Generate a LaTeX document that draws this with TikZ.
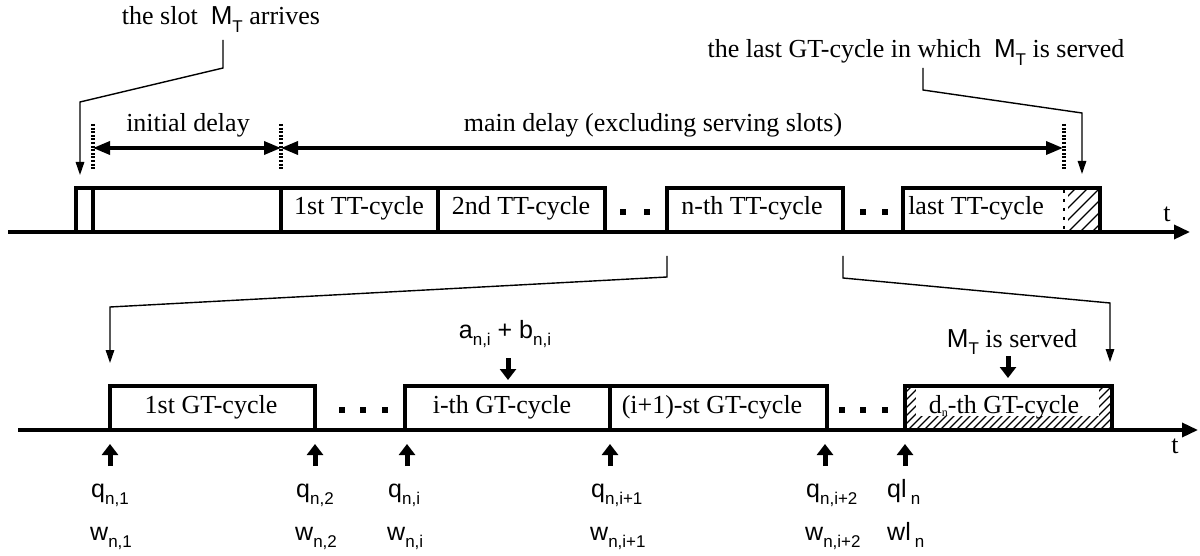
\documentclass[tikz,border=0pt]{standalone}
\usepackage{fontspec}
\setmainfont{Liberation Serif}
\newfontfamily\sansf{Liberation Sans}
\usetikzlibrary{arrows.meta}
\newcommand\lsub[2]{#1\raisebox{-0.55ex}{\fontsize{17}{17}\selectfont #2}}
\newcommand\MT{{\sansf\lsub{M}{T}}}
\begin{document}
\begin{tikzpicture}[x=1pt,y=-1pt,
  thickline/.style={line width=3.5pt},
  axisline/.style={line width=3.5pt,-{Triangle[length=16pt,width=14pt]}},
  conn/.style={line width=1.4pt,-{Triangle[length=13pt,width=8.5pt]}},
  dbl/.style={line width=3.5pt,{Triangle[length=17pt,width=13pt]}-{Triangle[length=17pt,width=13pt]}},
  dotmarker/.style={line width=3.5pt,dash pattern=on 2pt off 1.6pt},
  uparr/.style={line width=5pt,-{Triangle[length=11pt,width=16pt]}},
  stxt/.style={font=\fontsize{26}{31}\selectfont,inner sep=0pt,anchor=base},
  lab/.style={font=\sansf\fontsize{25}{29}\selectfont,inner sep=0pt,anchor=base west},
  dotsq/.style={fill=black,minimum size=6.5pt,inner sep=0pt}
]
\useasboundingbox (0,0) rectangle (1200,556);

% ---------- top timeline ----------
\begin{scope}
  \clip (1068,188) rectangle (1100,232);
  \foreach \i in {1032,1044,...,1104} \draw[line width=1.3pt] (\i,232) -- (\i+44,188);
\end{scope}
\draw[line width=1.6pt,dash pattern=on 3pt off 6pt] (1064,190) -- (1064,230);

\draw[axisline] (8,232) -- (1190,232);
\draw[thickline] (76,232) -- (76,188) -- (605,188) -- (605,232);
\draw[thickline] (93,188) -- (93,232);
\draw[thickline] (281,188) -- (281,232);
\draw[thickline] (438,188) -- (438,232);
\draw[thickline] (667,232) -- (667,188) -- (843,188) -- (843,232);
\draw[thickline] (903,232) -- (903,188) -- (1100,188) -- (1100,232);

\node[stxt] (tt1) at (359,215) {1st TT-cycle};
\node[stxt] (tt2) at (521,215) {2nd TT-cycle};
\node[stxt] (ttn) at (752,215) {n-th TT-cycle};
\node[stxt] (ttl) at (976,215) {last TT-cycle};
\node[stxt] (t1) at (1167,222) {t};

\node[dotsq] (d1) at (623,212) {};
\node[dotsq] (d2) at (647,212) {};
\node[dotsq] (d3) at (863,212) {};
\node[dotsq] (d4) at (885,212) {};

% delay markers
\draw[dotmarker] (93,124) -- (93,170);
\draw[dotmarker] (281,124) -- (281,170);
\draw[dotmarker] (1064,124) -- (1064,170);
\coordinate (da) at (93,148);
\coordinate (db) at (281,148);
\coordinate (dc) at (1063,148);
\draw[dbl] (da) -- (db);
\draw[dbl] (db) -- (dc);
\node[stxt] (initd) at (188,132) {initial delay};
\node[stxt] (maind) at (653,132) {main delay (excluding serving slots)};

% top labels
\node[stxt] (arr) at (221,25) {the slot \ \MT\ arrives};
\node[stxt] (last) at (916,58) {the last GT-cycle in which \ \MT\ is served};
\coordinate (a0) at (223,40);
\coordinate (a1) at (223,68);
\coordinate (a2) at (80,102);
\coordinate (a3) at (80,175);
\draw[conn] (a0) -- (a1) -- (a2) -- (a3);
\coordinate (l0) at (923,68);
\coordinate (l1) at (923,90);
\coordinate (l2) at (1082,113);
\coordinate (l3) at (1082,174);
\draw[conn] (l0) -- (l1) -- (l2) -- (l3);

% zoom connectors
\coordinate (z0) at (667,256);
\coordinate (z1) at (667,277);
\coordinate (z2) at (110,307);
\coordinate (z3) at (110,363);
\draw[conn] (z0) -- (z1) -- (z2) -- (z3);
\coordinate (y0) at (843,256);
\coordinate (y1) at (843,278);
\coordinate (y2) at (1110,303);
\coordinate (y3) at (1110,362);
\draw[conn] (y0) -- (y1) -- (y2) -- (y3);

% ---------- bottom timeline ----------
\begin{scope}
  \clip (905,386) rectangle (1112,430);
  \foreach \i in {860,868,...,1112} \draw[line width=1.1pt] (\i,430) -- (\i+44,386);
\end{scope}
\fill[white] (916,387) rectangle (1099,416);

\draw[axisline] (18,430) -- (1198,430);
\draw[thickline] (110,430) -- (110,386) -- (315,386) -- (315,430);
\draw[thickline] (405,430) -- (405,386) -- (827,386) -- (827,430);
\draw[thickline] (610,386) -- (610,430);
\draw[thickline] (905,430) -- (905,386) -- (1112,386) -- (1112,430);

\node[stxt] (gt1) at (211,413) {1st GT-cycle};
\node[stxt] (gti) at (502,413) {i-th GT-cycle};
\node[stxt] (gti1) at (712,413) {(i+1)-st GT-cycle};
\node[stxt] (gtd) at (1004,413) {d\raisebox{-0.3ex}{\fontsize{12}{12}\selectfont n}-th GT-cycle};
\node[stxt] (t2) at (1175,453) {t};

\node[dotsq] (e1) at (342,410) {};
\node[dotsq] (e2) at (363,410) {};
\node[dotsq] (e3) at (385,410) {};
\node[dotsq] (e4) at (842,410) {};
\node[dotsq] (e5) at (863,410) {};
\node[dotsq] (e6) at (885,410) {};

% down arrows
\node[font=\sansf\fontsize{25}{29}\selectfont,inner sep=0pt,anchor=base] (ab) at (505,338) {\lsub{a}{n,i} + \lsub{b}{n,i}};
\coordinate (ab0) at (508,358);
\coordinate (ab1) at (508,380);
\draw[uparr] (ab0) -- (ab1);
\node[stxt] (srv) at (1012,347) {\MT\ is served};
\coordinate (sv0) at (1008,356);
\coordinate (sv1) at (1008,378);
\draw[uparr] (sv0) -- (sv1);

% up arrows and labels
\foreach \x/\n in {110/1,315/2,407/i,610/i+1,825/i+2}{
  \draw[uparr] (\x,466) -- (\x,444);
  \node[lab] (q\n) at (\x-19,497) {\lsub{q}{n,\n}};
  \node[lab] (w\n) at (\x-20,540) {\lsub{w}{n,\n}};
}
\draw[uparr] (905,466) -- (905,444);
\node[lab] (ql) at (887,497) {\lsub{ql\,}{n}};
\node[lab] (wl) at (887,540) {\lsub{wl\,}{n}};
\end{tikzpicture}
\end{document}
